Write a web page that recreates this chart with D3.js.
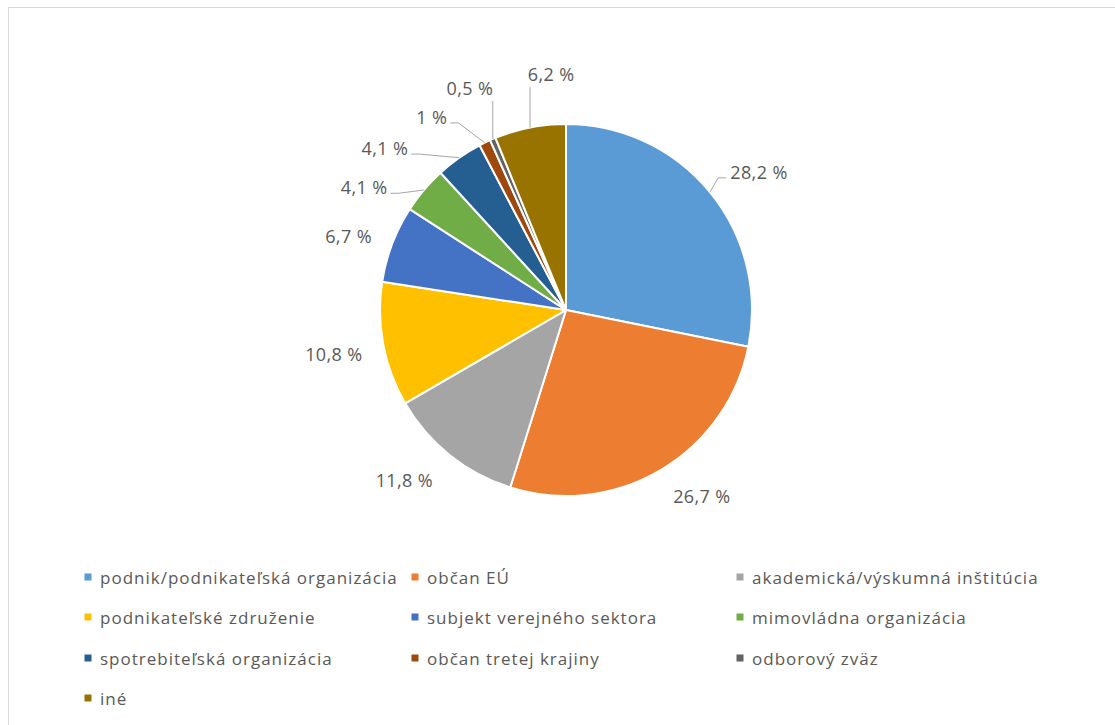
<!DOCTYPE html>
<html><head><meta charset="utf-8">
<script src="https://cdn.jsdelivr.net/npm/d3@7"></script>
<style>
body{margin:0;background:#fff;}
svg{display:block;}
text{font-family:"Open Sans","Noto Sans",sans-serif;fill:#595959;}
</style></head><body>
<svg id="c" width="1115" height="725"></svg>
<script>
// ---- data ----
const categories = ["podnik/podnikateľská organizácia","občan EÚ","akademická/výskumná inštitúcia","podnikateľské združenie","subjekt verejného sektora","mimovládna organizácia","spotrebiteľská organizácia","občan tretej krajiny","odborový zväz","iné"];
const values = [28.2, 26.7, 11.8, 10.8, 6.7, 4.1, 4.1, 1, 0.5, 6.2];
const valueLabels = ["28,2 %","26,7 %","11,8 %","10,8 %","6,7 %","4,1 %","4,1 %","1 %","0,5 %","6,2 %"];
const colors = ["#5B9BD5","#ED7D31","#A5A5A5","#FFC000","#4472C4","#70AD47","#255E91","#9E480E","#636363","#997300"];

// ---- layout (label placement: polar angle in degrees, radius factor; leader flag) ----
const labelAngle = [54.4, 143.8, 223.6, 259.3, 288.8, 301.3, 311.8, 325.2, 336.6, 356.4];
const labelRadius = [1.276, 1.237, 1.26, 1.27, 1.235, 1.27, 1.306, 1.264, 1.30, 1.27];
const hasLeader = [true,false,false,false,false,true,true,true,true,true];

const svg = d3.select("#c");
// chart border
svg.append("rect").attr("x",8.5).attr("y",7.5).attr("width",1120).attr("height",730)
  .attr("fill","none").attr("stroke","#d9d9d9").attr("stroke-width",1);

const cx = 566, cy = 310, r = 186;
const g = svg.append("g").attr("transform",`translate(${cx},${cy})`);
const pie = d3.pie().sort(null).value(d=>d);
const arcs = pie(values);
const arc = d3.arc().innerRadius(0).outerRadius(r);

g.selectAll("path.slice").data(arcs).enter().append("path")
  .attr("class","slice")
  .attr("d",arc)
  .attr("fill",(d,i)=>colors[i])
  .attr("stroke","#fff").attr("stroke-width",2).attr("stroke-linejoin","round");

// labels
const fs = 18;
arcs.forEach((d,i)=>{
  const a = labelAngle[i]*Math.PI/180;
  const R = r*labelRadius[i];
  const lx = Math.sin(a)*R, ly = -Math.cos(a)*R;
  const t = g.append("text").attr("x",lx).attr("y",ly)
    .attr("text-anchor","middle").attr("dominant-baseline","central")
    .style("font-size",fs+"px").style("letter-spacing","0.4px").text(valueLabels[i]);
  if(hasLeader[i]){
    const bb = t.node().getBBox();
    const mid = (d.startAngle+d.endAngle)/2;
    const px = Math.sin(mid)*r, py = -Math.cos(mid)*r;
    const x0 = bb.x-4, x1 = bb.x+bb.width+3, y0 = bb.y-1, y1 = bb.y+bb.height+1;
    let ax = Math.max(x0, Math.min(px, x1));
    let ay = Math.max(y0, Math.min(py, y1));
    let pts;
    if(ax===x0 || ax===x1){
      ay = Math.min(ly+6, y1);
      const ex = ax + (px>ax? 8 : -8);
      pts = [[px,py],[ex,ay],[ax,ay]];
    } else {
      pts = [[px,py],[ax,ay]];
    }
    g.insert("path","text").attr("d",d3.line()(pts))
      .attr("fill","none").attr("stroke","#a6a6a6").attr("stroke-width",1);
  }
});

// legend
const colX = [88, 415, 740];
const rowY = [577, 617, 658, 698];
const lg = svg.append("g");
categories.forEach((c,i)=>{
  const x = colX[i%3], y = rowY[Math.floor(i/3)];
  lg.append("rect").attr("x",x-3.5).attr("y",y-3.5).attr("width",7).attr("height",7).attr("fill",colors[i]);
  lg.append("text").attr("x",x+12).attr("y",y).attr("dominant-baseline","central")
    .style("font-size","17px").style("letter-spacing","1px").text(c);
});
</script>
</body></html>
